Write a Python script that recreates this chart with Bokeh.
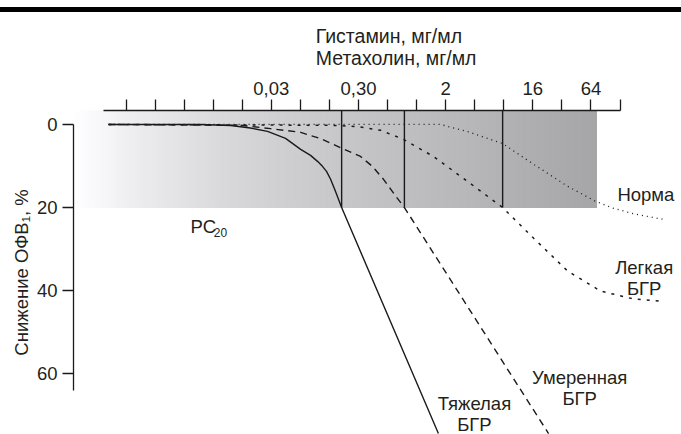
from bokeh.plotting import figure
from bokeh.models import Range1d, FixedTicker, Label, Div, Title
from bokeh.layouts import column
from bokeh.embed import file_html
from bokeh.resources import INLINE
import numpy as np

# ---------------- data ----------------
# x = dose step, log2 of concentration (mg/ml); y = fall of FEV1, %
dose_steps = list(range(-10, 8))
dose_labels = {-5: "0,03", -2: "0,30", 1: "2", 4: "16", 6: "64"}
fall_ticks = [0, 20, 40, 60]

severe_x = [-10.60, -7.44, -6.40, -5.72, -5.13, -4.51, -3.99, -3.65, -3.41, -3.24, -3.10, -2.96, -2.82, -2.58, 0.75]
severe_y = [0, 0, 0.24, 0.84, 1.68, 3.36, 6.0, 7.44, 8.88, 10.08, 11.28, 13.2, 15.6, 20.0, 74.4]

moderate_x = [-10.60, -6.06, -5.03, -3.99, -3.31, -2.55, -1.93, -1.52, -1.14, -0.66, -0.42, 4.54]
moderate_y = [0, 0.2, 1.0, 1.9, 3.4, 5.8, 7.7, 10.1, 13.2, 17.8, 20.0, 74.4]

mild_x = [-10.60, -2.96, -2.03, -1.24, -0.45, 0.58, 1.75, 2.96, 4.03, 5.20, 6.33, 7.46, 8.39]
mild_y = [0, 0.2, 0.5, 1.4, 3.6, 7.7, 13.7, 20.0, 27.4, 35.3, 40.1, 42.0, 42.5]

norm_x = [-10.60, 0.82, 1.75, 2.96, 4.03, 5.20, 6.16, 6.78, 7.53, 8.46]
norm_y = [0, 0, 1.7, 4.6, 9.6, 14.9, 18.5, 20.2, 21.6, 22.8]

pc20_x = [-2.58, -0.42, 2.96]
pc20_level = 20

axis_titles = ["Гистамин, мг/мл", "Метахолин, мг/мл"]
curve_labels = ["Норма", "Легкая\nБГР", "Умеренная\nБГР", "Тяжелая\nБГР"]
curve_label_x = [7.89, 7.83, 5.61, 1.99]
curve_label_y = [16.8, 37.0, 63.4, 69.7]

# ---------------- style ----------------
FONT = "Liberation Sans"
TXT = "#231f20"
INK = "#1a1a1a"
FS = "18.5px"
FS_T = "19.5px"

x_start, x_end = -11.807, 9.115
y_top, y_bottom = -3.36, 74.63

p = figure(width=681, height=422, output_backend="svg", toolbar_location=None,
           x_range=Range1d(x_start, x_end), y_range=Range1d(y_bottom, y_top),
           x_axis_location="above", min_border_left=73, min_border_right=0,
           min_border_top=97, min_border_bottom=0, outline_line_color=None,
           background_fill_color="white", border_fill_color="white")
p.margin = (0, 0, 0, 0)
p.grid.visible = False

# gradient band up to the 20 % level (stacked, overlapping strips => no seams)
shade_right = 6.19
n = 140
edges = np.linspace(x_start, shade_right, n + 1)[:-1]
stop_pos = np.array([0.0, 0.13, 0.28, 0.42, 0.55, 0.72, 1.0])
stop_val = np.array([255, 236, 218, 206, 197, 186, 166])
vals = np.interp((np.arange(n) + 0.5) / n, stop_pos, stop_val)
cols = ["#%02x%02x%02x" % (int(v), int(v), min(255, int(v) + 2)) for v in vals]
p.quad(left=edges, right=[shade_right] * n, top=y_top, bottom=pc20_level,
       fill_color=cols, line_color=None)

# PC20 markers
p.segment(x0=pc20_x, x1=pc20_x, y0=[y_top] * 3, y1=[pc20_level] * 3,
          line_color=INK, line_width=1.4)

# curves
p.line(norm_x, norm_y, line_color=INK, line_width=1.3, line_dash="1 4")
p.line(mild_x, mild_y, line_color=INK, line_width=1.5, line_dash="3 6")
p.line(moderate_x, moderate_y, line_color=INK, line_width=1.4, line_dash="7 5")
p.line(severe_x, severe_y, line_color=INK, line_width=1.4)

# top axis (dose)
xa = p.xaxis[0]
xa.ticker = FixedTicker(ticks=dose_steps)
xa.major_label_overrides = {t: dose_labels.get(t, "") for t in dose_steps}
xa.bounds = (-10.76, 7)
xa.major_tick_in = 0
xa.major_tick_out = 11
xa.minor_tick_line_color = None
xa.axis_line_color = INK
xa.major_tick_line_color = INK
xa.axis_line_width = 1.3
xa.major_tick_line_width = 1.3
xa.major_label_standoff = 5
xa.major_label_text_font = FONT
xa.major_label_text_font_size = FS
xa.major_label_text_color = TXT

# left axis (fall of FEV1)
ya = p.yaxis[0]
ya.ticker = FixedTicker(ticks=fall_ticks)
ya.bounds = (0, 64)
ya.major_tick_in = 0
ya.major_tick_out = 11
ya.minor_tick_line_color = None
ya.axis_line_color = INK
ya.major_tick_line_color = INK
ya.axis_line_width = 1.3
ya.major_tick_line_width = 1.3
ya.major_label_standoff = 5
ya.major_label_text_font = FONT
ya.major_label_text_font_size = FS
ya.major_label_text_color = TXT
ya.axis_label = "Снижение ОФВ₁, %"
ya.axis_label_text_font = FONT
ya.axis_label_text_font_size = FS
ya.axis_label_text_font_style = "normal"
ya.axis_label_text_color = TXT
ya.axis_label_standoff = 2

# two-line axis title above the dose axis
p.title.visible = False
p.add_layout(Title(text="\n".join(axis_titles), align="right", offset=205, standoff=20,
                   text_font=FONT, text_font_size=FS_T, text_color=TXT,
                   text_line_height=1.0, text_font_style="normal"), "above")

# curve labels
for txt, lx, ly in zip(curve_labels, curve_label_x, curve_label_y):
    p.add_layout(Label(x=lx, y=ly, text=txt, text_align="center", text_baseline="middle",
                       text_font=FONT, text_font_size=FS, text_color=TXT,
                       text_line_height=1.0))

# PC20 label
p.add_layout(Label(x=-7.78, y=24.6, text="PC", text_align="left", text_baseline="middle",
                   text_font=FONT, text_font_size=FS, text_color=TXT))
p.add_layout(Label(x=-6.98, y=26.0, text="20", text_align="left", text_baseline="middle",
                   text_font=FONT, text_font_size="12px", text_color=TXT))

bar = Div(text='<div style="margin-top:6px;height:5px;width:681px;background:#000"></div>',
          width=681, height=12, margin=(0, 0, 0, 0))

layout = column(bar, p, spacing=0, margin=(0, 0, 0, 0))
open("out.html", "w").write(file_html(layout, INLINE))
